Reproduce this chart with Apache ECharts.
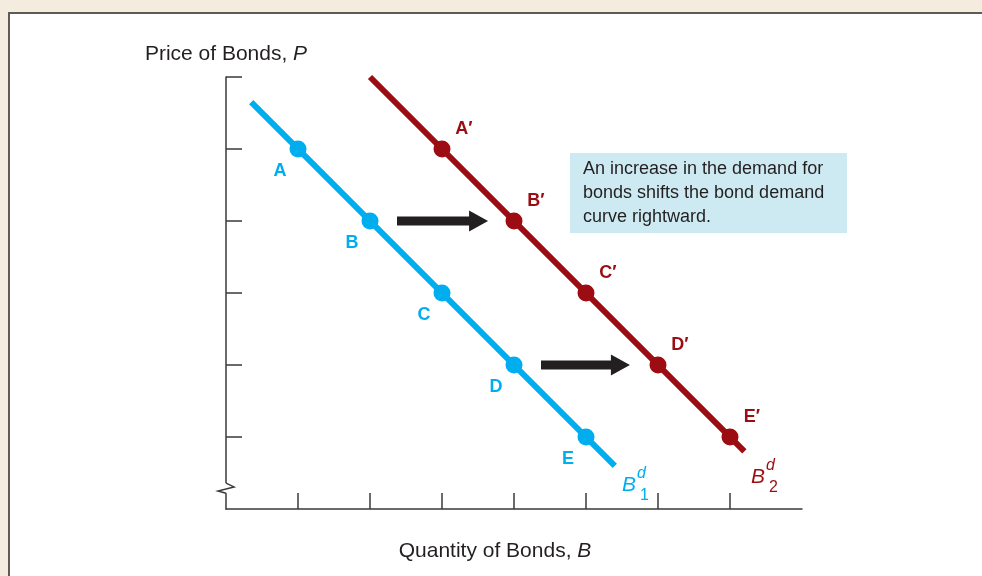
<!DOCTYPE html>
<html>
<head>
<meta charset="utf-8">
<script src="https://cdn.jsdelivr.net/npm/echarts@6/dist/echarts.min.js"></script>
<style>
html,body{margin:0;padding:0;background:#f3ecdf;overflow:hidden;}
#panel{position:absolute;left:8px;top:12px;width:1000px;height:600px;background:#fff;border-top:2px solid #5f5a55;border-left:2px solid #5f5a55;}
#chart{position:absolute;left:0;top:0;width:982px;height:576px;}
</style>
</head>
<body>
<div id="panel"></div>
<div id="chart"></div>
<script>
// demand curves, B1 (blue) and B2 (red)
var curve1Line = [[0.35, 5.65], [5.4, 0.6]];
var curve2Line = [[2, 6], [7.2, 0.8]];
var curve1Points = [[1, 5, 'A'], [2, 4, 'B'], [3, 3, 'C'], [4, 2, 'D'], [5, 1, 'E']];
var curve2Points = [[3, 5, 'A′'], [4, 4, 'B′'], [5, 3, 'C′'], [6, 2, 'D′'], [7, 1, 'E′']];
// shift arrows: x from, x to, y
var shiftArrows = [[2.375, 3.64, 4], [4.375, 5.61, 2]];
// curve names: x, y, superscript, subscript
var curveNames = [[5.5, 0.33, 'd', '1'], [7.29, 0.44, 'd', '2']];
var xTicks = [1, 2, 3, 4, 5, 6, 7];
var yTicks = [1, 2, 3, 4, 5, 6];
var yBreak = [0.22, 0.36];
var noteText = 'An increase in the demand for\nbonds shifts the bond demand\ncurve rightward.';

var blue = '#00aeef';
var red = '#9b0d12';
var ink = '#231f20';
var axisColor = '#3a3a3a';
var fam = '"Liberation Sans", Arial, sans-serif';
var curveColors = [blue, red];

var chart = echarts.init(document.getElementById('chart'));

function axisOf(ticks, name, extra) {
  return Object.assign({
    type: 'value',
    min: 0,
    interval: 1,
    axisLine: {show: true, lineStyle: {color: axisColor, width: 1.5}},
    axisTick: {show: true, inside: true, length: 16, customValues: ticks, lineStyle: {color: axisColor, width: 1.5}},
    axisLabel: {show: false},
    splitLine: {show: false},
    name: name
  }, extra);
}

var nameRich = {
  n: {fontSize: 21, color: ink, fontFamily: fam},
  i: {fontSize: 21, color: ink, fontFamily: fam, fontStyle: 'italic'}
};

function pointSeries(data, color, offset) {
  return {
    type: 'scatter',
    data: data,
    symbolSize: 17,
    itemStyle: {color: color, opacity: 1},
    label: {
      show: true,
      position: 'inside',
      offset: offset,
      formatter: function (p) { return p.value[2]; },
      color: color,
      fontWeight: 'bold',
      fontSize: 18,
      fontFamily: fam
    },
    z: 4
  };
}

var option = {
  animation: false,
  grid: {left: 226, top: 77, width: 576, height: 432},
  xAxis: axisOf(xTicks, '{n|Quantity of Bonds, }{i|B}', {
    max: 8,
    nameLocation: 'middle',
    nameGap: 32,
    nameTextStyle: {padding: [0, 38, 0, 0], rich: nameRich}
  }),
  yAxis: axisOf(yTicks, '{n|Price of Bonds, }{i|P}', {
    max: 6,
    nameLocation: 'end',
    nameGap: 12,
    nameTextStyle: {rich: nameRich}
  }),
  series: [
    {type: 'line', data: curve1Line, symbol: 'none', lineStyle: {color: blue, width: 6}, z: 3},
    {type: 'line', data: curve2Line, symbol: 'none', lineStyle: {color: red, width: 6}, z: 3},
    pointSeries(curve1Points, blue, [-18, 22]),
    pointSeries(curve2Points, red, [22, -20]),
    {
      type: 'custom',
      data: shiftArrows,
      encode: {x: [0, 1], y: 2},
      renderItem: function (params, api) {
        var s = api.coord([api.value(0), api.value(2)]);
        var e = api.coord([api.value(1), api.value(2)]);
        var hl = 19, hw = 10.5, sw = 4.5, y = s[1];
        return {
          type: 'polygon',
          shape: {points: [[s[0], y - sw], [e[0] - hl, y - sw], [e[0] - hl, y - hw], [e[0], y],
                           [e[0] - hl, y + hw], [e[0] - hl, y + sw], [s[0], y + sw]]},
          style: {fill: ink}
        };
      },
      z: 5
    },
    {
      type: 'custom',
      data: curveNames.map(function (c) { return [c[0], c[1]]; }),
      renderItem: function (params, api) {
        var p = api.coord([api.value(0), api.value(1)]);
        var c = curveNames[params.dataIndex];
        var col = curveColors[params.dataIndex];
        function t(txt, dx, dy, font) {
          return {type: 'text', x: p[0] + dx, y: p[1] + dy,
                  style: {text: txt, fill: col, font: font, verticalAlign: 'middle', align: 'left'}};
        }
        return {type: 'group', children: [
          t('B', 0, 0, 'italic 21px ' + fam),
          t(c[2], 15, -12, 'italic 16px ' + fam),
          t(c[3], 18, 10, '16px ' + fam)
        ]};
      },
      z: 5
    }
  ]
};
chart.setOption(option);

// note box + axis break (zigzag) on the vertical axis
var b0 = chart.convertToPixel({gridIndex: 0}, [0, yBreak[0]]);
var b1 = chart.convertToPixel({gridIndex: 0}, [0, yBreak[1]]);
var ax = b0[0], yt = b1[1], yb = b0[1], h = yb - yt;
chart.setOption({
  graphic: [{
    id: 'noteBox',
    type: 'rect',
    shape: {x: 570, y: 153, width: 277, height: 80},
    style: {fill: '#cde9f1'},
    z: 1
  }, {
    id: 'noteText',
    type: 'text',
    x: 583,
    y: 157,
    style: {text: noteText, fill: ink, font: '18px ' + fam, lineHeight: 24},
    z: 2
  }, {
    id: 'breakGap',
    type: 'rect',
    shape: {x: ax - 2, y: yt, width: 4, height: h},
    style: {fill: '#fff'},
    z: 10
  }, {
    id: 'breakZig',
    type: 'polyline',
    shape: {points: [[ax, yt], [ax + 8, yt + h * 0.38], [ax - 8, yt + h * 0.78], [ax, yb]]},
    style: {stroke: axisColor, lineWidth: 1.5, fill: null},
    z: 11
  }]
});
</script>
</body>
</html>
